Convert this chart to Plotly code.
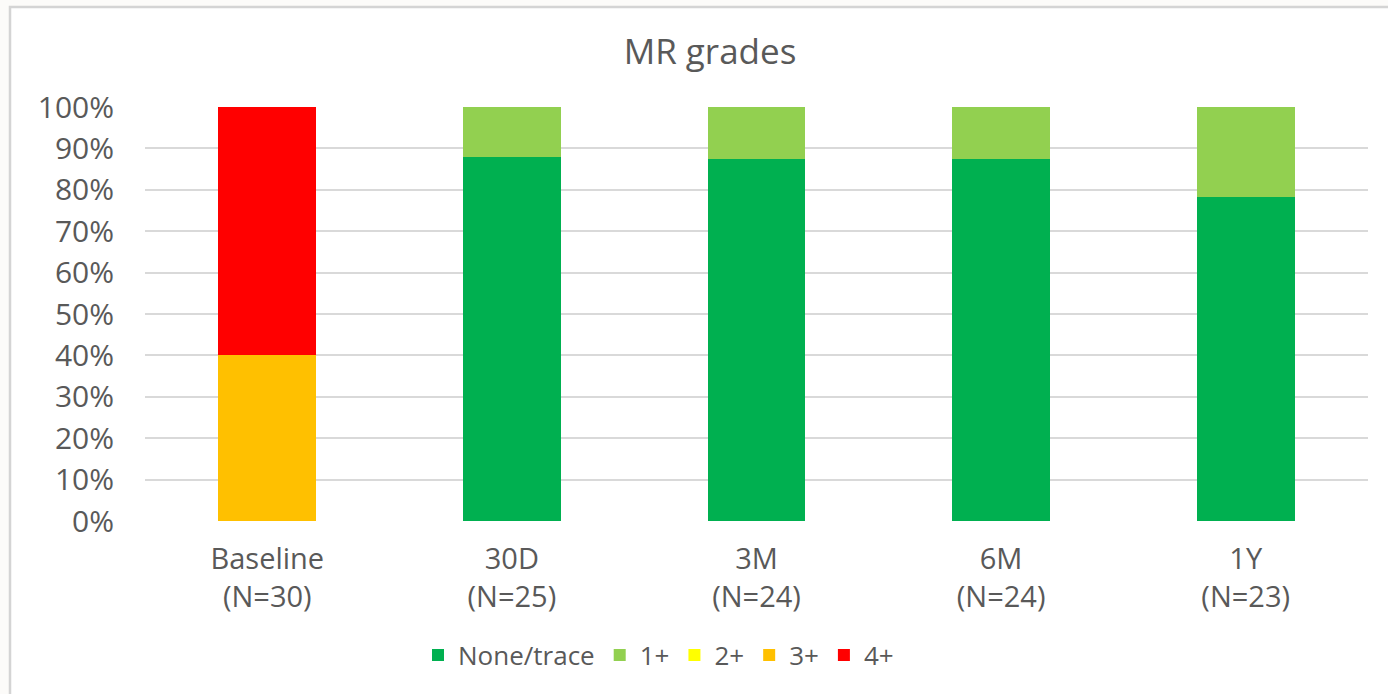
import plotly.graph_objects as go

# Follow-up time points (two-line category labels)
categories = ["Baseline<br>(N=30)", "30D<br>(N=25)", "3M<br>(N=24)", "6M<br>(N=24)", "1Y<br>(N=23)"]

# Share of patients per MR grade at each time point (%)
none_trace = [0.0, 88.0, 87.5, 87.5, 78.3]
grade_1 = [0.0, 12.0, 12.5, 12.5, 21.7]
grade_2 = [0.0, 0.0, 0.0, 0.0, 0.0]
grade_3 = [40.0, 0.0, 0.0, 0.0, 0.0]
grade_4 = [60.0, 0.0, 0.0, 0.0, 0.0]

y_ticks = [0, 10, 20, 30, 40, 50, 60, 70, 80, 90, 100]
y_tick_labels = [f"{v}%" for v in y_ticks]

series = [
    ("None/trace", none_trace, "#00B050"),
    ("1+", grade_1, "#92D050"),
    ("2+", grade_2, "#FFFF00"),
    ("3+", grade_3, "#FFC000"),
    ("4+", grade_4, "#FF0000"),
]

TEXT = "#595959"
FONT = "Open Sans"

fig = go.Figure()
for name, values, color in series:
    fig.add_trace(go.Bar(
        x=categories, y=values, name=name,
        marker=dict(color=color, line=dict(width=0)),
        hovertemplate="%{y:.1f}%<extra>" + name + "</extra>",
    ))

# Plot area spans pixels x 145..1368, y 107..521
L, R, T, B = 145, 20, 107, 173
W, H = 1388, 694
pw, ph = W - L - R, H - T - B

def px_x(p):
    return (p - L) / pw

def px_y(p):
    return (H - B - p) / ph

# Chart-area frame (open on the right and bottom edges of the page)
fig.add_shape(
    type="rect", xref="paper", yref="paper",
    x0=px_x(10), x1=px_x(1400), y0=px_y(706), y1=px_y(7),
    line=dict(color="#D4D4D4", width=2.5), fillcolor="white", layer="below",
)

fig.update_layout(
    width=W, height=H,
    barmode="stack",
    bargap=0.6,
    paper_bgcolor="#FCFBF9",
    plot_bgcolor="rgba(0,0,0,0)",
    margin=dict(l=L, r=R, t=T, b=B, autoexpand=False),
    font=dict(family=FONT, color=TEXT),
    title=dict(
        text="MR grades", font=dict(family=FONT, size=35, color=TEXT),
        x=710 / W, xanchor="center",
        y=1 - 52 / H, yanchor="middle", yref="container",
    ),
    xaxis=dict(
        showgrid=False, zeroline=False, showline=False, ticks="",
        tickfont=dict(family=FONT, size=29, color=TEXT),
        ticklabelstandoff=18,
    ),
    yaxis=dict(
        range=[0, 100], tickvals=y_ticks, ticktext=y_tick_labels,
        showgrid=True, gridcolor="#D9D9D9", gridwidth=2,
        zeroline=False, showline=False, ticks="",
        tickfont=dict(family=FONT, size=30, color=TEXT),
        ticklabelstandoff=30,
    ),
    legend=dict(
        orientation="h", x=px_x(418), xanchor="left",
        y=px_y(655), yanchor="middle",
        font=dict(family=FONT, size=26, color=TEXT),
        bgcolor="rgba(0,0,0,0)", traceorder="normal",
    ),
)

fig.write_html("out.html")
